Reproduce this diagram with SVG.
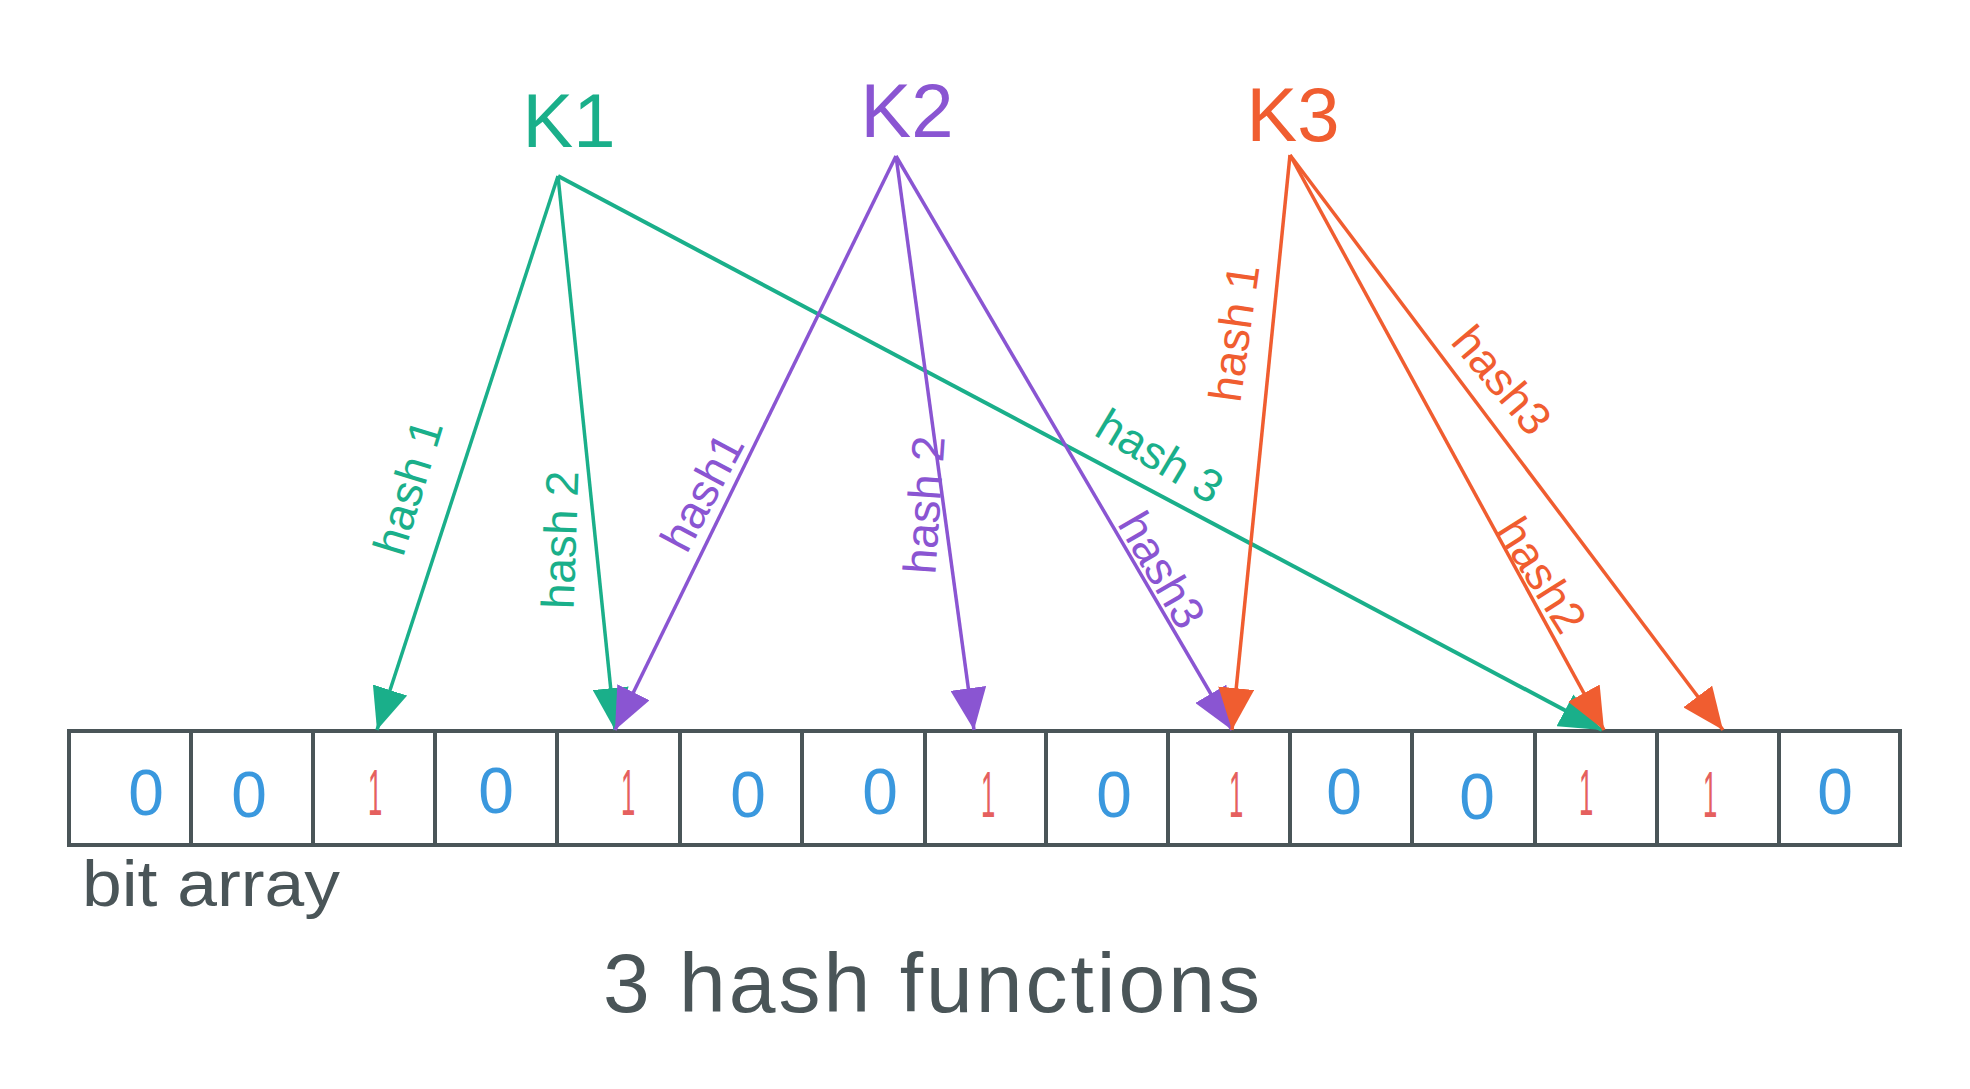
<svg xmlns="http://www.w3.org/2000/svg" width="1970" height="1089" viewBox="0 0 1970 1089">
<style>
  text { font-family: "Liberation Sans", "DejaVu Sans", sans-serif; }
  .cell { fill: #ffffff; stroke: #4a5558; stroke-width: 4; }
  .zero { fill: #3a98de; font-size: 64px; text-anchor: middle; }
  .one { fill: #e5605e; font-size: 64px; text-anchor: middle; }
  .key { font-size: 76px; text-anchor: middle; }
  .lbl { font-size: 46px; text-anchor: middle; dominant-baseline: central; }
  .g { stroke: #1aaf8a; fill: #1aaf8a; }
  .p { stroke: #8a55d2; fill: #8a55d2; }
  .o { stroke: #f05d30; fill: #f05d30; }
  line.g, line.p, line.o { stroke-width: 3.5; fill: none; }
  text.g, text.p, text.o { stroke: none; }
  .note { fill: #4a5558; }
</style>
<defs>
  <marker id="ah-g" viewBox="0 0 42 36" refX="42" refY="18" markerWidth="42" markerHeight="36" markerUnits="userSpaceOnUse" orient="auto"><path d="M0,0 L42,18 L0,36 Z" fill="#1aaf8a"/></marker>
  <marker id="ah-p" viewBox="0 0 42 36" refX="42" refY="18" markerWidth="42" markerHeight="36" markerUnits="userSpaceOnUse" orient="auto"><path d="M0,0 L42,18 L0,36 Z" fill="#8a55d2"/></marker>
  <marker id="ah-o" viewBox="0 0 42 36" refX="42" refY="18" markerWidth="42" markerHeight="36" markerUnits="userSpaceOnUse" orient="auto"><path d="M0,0 L42,18 L0,36 Z" fill="#f05d30"/></marker>
</defs>

<g id="bit-array">
  <g id="cell-0"><rect class="cell" x="69" y="731" width="122" height="114"/><text class="zero" x="146" y="815">0</text></g>
  <g id="cell-1"><rect class="cell" x="191" y="731" width="122" height="114"/><text class="zero" x="249" y="817">0</text></g>
  <g id="cell-2"><rect class="cell" x="313" y="731" width="122" height="114"/><text class="one" transform="translate(375,815) scale(0.4,1)">1</text></g>
  <g id="cell-3"><rect class="cell" x="435" y="731" width="122" height="114"/><text class="zero" x="496" y="813">0</text></g>
  <g id="cell-4"><rect class="cell" x="557" y="731" width="123" height="114"/><text class="one" transform="translate(628,815) scale(0.4,1)">1</text></g>
  <g id="cell-5"><rect class="cell" x="680" y="731" width="122" height="114"/><text class="zero" x="748" y="817">0</text></g>
  <g id="cell-6"><rect class="cell" x="802" y="731" width="123" height="114"/><text class="zero" x="880" y="814">0</text></g>
  <g id="cell-7"><rect class="cell" x="925" y="731" width="121" height="114"/><text class="one" transform="translate(988,817) scale(0.4,1)">1</text></g>
  <g id="cell-8"><rect class="cell" x="1046" y="731" width="122" height="114"/><text class="zero" x="1114" y="817">0</text></g>
  <g id="cell-9"><rect class="cell" x="1168" y="731" width="122" height="114"/><text class="one" transform="translate(1236,817) scale(0.4,1)">1</text></g>
  <g id="cell-10"><rect class="cell" x="1290" y="731" width="122" height="114"/><text class="zero" x="1344" y="814">0</text></g>
  <g id="cell-11"><rect class="cell" x="1412" y="731" width="123" height="114"/><text class="zero" x="1477" y="819">0</text></g>
  <g id="cell-12"><rect class="cell" x="1535" y="731" width="122" height="114"/><text class="one" transform="translate(1586,815) scale(0.4,1)">1</text></g>
  <g id="cell-13"><rect class="cell" x="1657" y="731" width="122" height="114"/><text class="one" transform="translate(1710,817) scale(0.4,1)">1</text></g>
  <g id="cell-14"><rect class="cell" x="1779" y="731" width="121" height="114"/><text class="zero" x="1835" y="814">0</text></g>
</g>

<g id="key-K1"><text class="key g" x="569" y="147">K1</text></g>
<g id="key-K2"><text class="key p" x="907" y="137">K2</text></g>
<g id="key-K3"><text class="key o" x="1293" y="141">K3</text></g>

<g id="connectors">
  <line class="g" x1="558" y1="176" x2="377" y2="730" marker-end="url(#ah-g)"/>
  <line class="g" x1="558" y1="176" x2="615" y2="730" marker-end="url(#ah-g)"/>
  <line class="g" x1="558" y1="176" x2="1602" y2="730" marker-end="url(#ah-g)" style="stroke-width:4"/>
  <line class="p" x1="896" y1="156" x2="615" y2="730" marker-end="url(#ah-p)"/>
  <line class="p" x1="896" y1="156" x2="974" y2="730" marker-end="url(#ah-p)"/>
  <line class="p" x1="896" y1="156" x2="1232" y2="730" marker-end="url(#ah-p)"/>
  <line class="o" x1="1290" y1="155" x2="1232" y2="730" marker-end="url(#ah-o)"/>
  <line class="o" x1="1290" y1="155" x2="1604" y2="730" marker-end="url(#ah-o)"/>
  <line class="o" x1="1290" y1="155" x2="1723" y2="730" marker-end="url(#ah-o)"/>

  <text class="lbl g" transform="translate(408,487) rotate(-73)">hash 1</text>
  <text class="lbl g" transform="translate(560,540) rotate(-88)">hash 2</text>
  <text class="lbl g" transform="translate(1160,456) rotate(31)">hash 3</text>
  <text class="lbl p" transform="translate(702,492) rotate(-62)">hash1</text>
  <text class="lbl p" transform="translate(924,505) rotate(-86)">hash 2</text>
  <text class="lbl p" transform="translate(1162,570) rotate(60)">hash3</text>
  <text class="lbl o" transform="translate(1234,333) rotate(-82)">hash 1</text>
  <text class="lbl o" transform="translate(1502,380) rotate(50)">hash3</text>
  <text class="lbl o" transform="translate(1542,575) rotate(58)">hash2</text>
</g>

<g id="caption-bit-array"><text class="note" x="82" y="906" font-size="64" textLength="258" lengthAdjust="spacingAndGlyphs">bit array</text></g>
<g id="title"><text class="note" x="603" y="1012" font-size="84" textLength="657" lengthAdjust="spacing">3 hash functions</text></g>
</svg>
